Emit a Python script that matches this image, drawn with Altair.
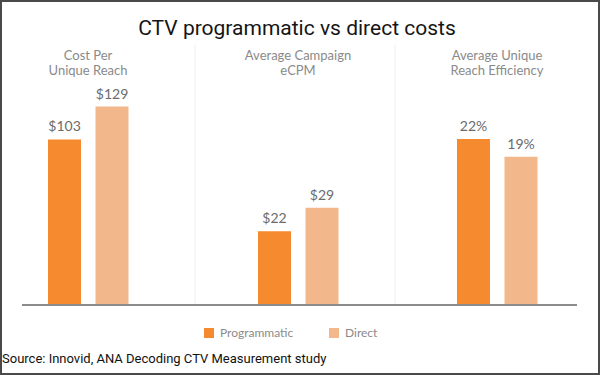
import altair as alt
import pandas as pd

# ---- data ----
series = ["Programmatic", "Direct"]
panel_titles = ["Cost Per\nUnique Reach",
                "Average Campaign\neCPM",
                "Average Unique\nReach Efficiency"]
cost_per_reach = [103, 129]
campaign_ecpm = [22, 29]
reach_efficiency = [22, 19]
cost_labels = ["$103", "$129"]
ecpm_labels = ["$22", "$29"]
eff_labels = ["22%", "19%"]
colors = ["#F58A2E", "#F2B78B"]
title_text = ["CTV programmatic vs direct costs"]
source_text = ["Source: Innovid, ANA Decoding CTV Measurement study"]

# ---- layout (pixels) ----
W, H = 555, 210
BAR = 33

legend = alt.Legend(orient="none", legendX=181, legendY=232, direction="horizontal",
                    title=None, symbolType="square", symbolSize=100, symbolStrokeWidth=0,
                    labelFont="Lato", labelFontSize=12, labelColor="#8a8a8a",
                    columnPadding=34, labelOffset=5, padding=0)


def panel(values, labels, x_range, domain):
    df = pd.DataFrame({"series": series, "value": values, "label": labels})
    x = alt.X("series:N", sort=series,
              scale=alt.Scale(type="point", padding=0, range=x_range), axis=None)
    y = alt.Y("value:Q", scale=alt.Scale(domain=domain, zero=False, nice=False), axis=None)
    base = alt.Chart(df)
    bars = base.mark_bar(size=BAR).encode(
        x=x, y=y, y2=alt.datum(domain[0]),
        color=alt.Color("series:N", sort=series,
                        scale=alt.Scale(domain=series, range=colors), legend=legend))
    text = base.mark_text(baseline="alphabetic", dy=-8, font="Lato", fontSize=14,
                          color="#6b6b6b").encode(x=x, y=y, text="label:N")
    return alt.layer(bars, text)


p1 = panel(cost_per_reach, cost_labels, [42.5, 90], [-28.2, 138.2])
p2 = panel(campaign_ecpm, ecpm_labels, [252.5, 300], [0, 62.7])
p3 = panel(reach_efficiency, eff_labels, [451.5, 499], [-6.14, 29.46])

one = pd.DataFrame({"s": [0]})

# separators between panels
sep1 = alt.Chart(one).mark_rule(color="#eeeeee", strokeWidth=1).encode(
    x=alt.value(173), y=alt.value(-50), y2=alt.value(H))
sep2 = alt.Chart(one).mark_rule(color="#eeeeee", strokeWidth=1).encode(
    x=alt.value(373), y=alt.value(-50), y2=alt.value(H))

# baseline
baseline = alt.Chart(one).mark_rule(color="#8c8c8c", strokeWidth=2).encode(
    x=alt.value(0), x2=alt.value(W), y=alt.value(H))

# panel sub-titles
sub_layers = []
for t, cx in zip(panel_titles, [66, 276, 475]):
    sub_layers.append(
        alt.Chart(pd.DataFrame({"t": [t]})).mark_text(
            align="center", baseline="alphabetic", font="Lato", fontSize=13,
            color="#8a8a8a", lineBreak="\n", lineHeight=15).encode(
            x=alt.value(cx), y=alt.value(-35), text="t:N"))

title = alt.Chart(pd.DataFrame({"t": title_text})).mark_text(
    align="center", baseline="alphabetic", font="Roboto", fontSize=21,
    color="#151515").encode(x=alt.value(275), y=alt.value(-60), text="t:N")

source = alt.Chart(pd.DataFrame({"t": source_text})).mark_text(
    align="left", baseline="alphabetic", font="Roboto", fontSize=13,
    color="#111111").encode(x=alt.value(-20), y=alt.value(268), text="t:N")

frame = alt.Chart(pd.DataFrame({"f": [0]})).mark_rect(
    filled=False, stroke="#4a4a4a", strokeWidth=2).encode(
    x=alt.value(-21), x2=alt.value(577), y=alt.value(-94), y2=alt.value(279))

chart = alt.layer(sep1, sep2, p1, p2, p3, baseline, *sub_layers, title, source, frame).resolve_scale(
    x="independent", y="independent"
).properties(
    width=W, height=H,
    padding={"left": 22, "top": 95, "right": 23, "bottom": 70},
    autosize=alt.AutoSizeParams(type="none"),
    background="white",
).configure_view(stroke=None)

chart.save("out.html", embed_options={"renderer": "svg", "actions": False})
